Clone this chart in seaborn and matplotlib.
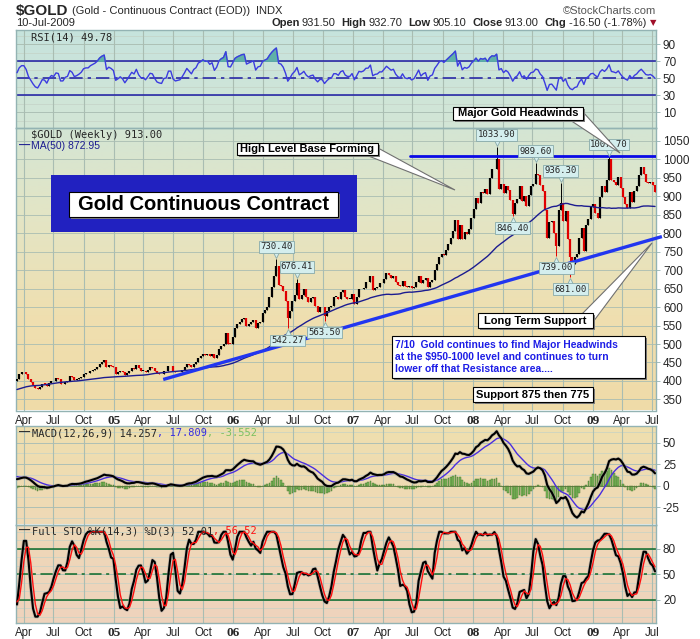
import numpy as np
import pandas as pd
import seaborn as sns
import matplotlib.pyplot as plt
from matplotlib.colors import LinearSegmentedColormap
from matplotlib.patches import Rectangle, Polygon
from matplotlib.transforms import offset_copy

# weekly closes before the visible window (Apr 2003 - Mar 5 2004), only used to warm up MA / RSI / MACD / STO
warmup_close = [325, 328, 329, 333, 344, 348, 355, 366, 361, 365, 356, 346, 345, 346, 348, 349,
                365, 352, 358, 361, 365, 375, 378, 380, 382, 390, 371, 373, 373, 389, 384, 382,
                396, 398, 398, 407, 409, 411, 414, 417, 425, 408, 414, 401, 406, 413, 400, 397, 401]

# visible weekly closes, Mar 12 2004 - Jul 10 2009
close_2004 = [405, 418, 424, 424, 418, 405, 397, 388, 380, 377, 384, 393, 392, 385, 395, 401,
              399, 407, 406, 391, 391, 398, 400, 413, 410, 402, 404, 407, 411, 419, 421, 421,
              426, 429, 432, 437, 446, 452, 456, 437, 443, 441, 438]
close_2005 = [420, 423, 427, 423, 415, 421, 428, 436, 433, 444, 434, 428, 428, 424, 430, 437,
              436, 428, 421, 419, 418, 426, 427, 440, 440, 427, 423, 424, 425, 430, 437, 446,
              442, 438, 447, 451, 463, 467, 473, 471, 472, 468, 472, 462, 469, 487, 495, 500,
              530, 501, 500, 518]
close_2006 = [543, 553, 560, 568, 571, 549, 555, 560, 566, 543, 557, 560, 584, 593, 600, 626,
              654, 683, 712, 659, 656, 643, 616, 570, 590, 617, 634, 666, 623, 634, 650, 628,
              615, 624, 628, 603, 587, 601, 599, 576, 590, 601, 604, 628, 628, 621, 640, 646,
              628, 622, 622, 635]
close_2007 = [609, 627, 650, 648, 653, 667, 668, 685, 645, 652, 654, 664, 664, 677, 692, 686,
              680, 684, 669, 660, 657, 671, 658, 655, 657, 651, 655, 667, 683, 666, 674, 678,
              654, 669, 673, 700, 716, 737, 745, 740, 754, 770, 787, 806, 835, 784, 823, 784,
              803, 799, 811, 842]
close_2008 = [865, 896, 882, 913, 910, 921, 907, 949, 975, 973, 1001, 921, 934, 908, 928, 917,
              890, 853, 881, 894, 928, 888, 900, 873, 904, 929, 934, 961, 957, 930, 914, 864,
              787, 831, 834, 801, 766, 862, 881, 834, 860, 785, 735, 718, 737, 743, 788, 815,
              752, 821, 839, 872]
close_2009 = [878, 856, 842, 899, 928, 913, 944, 1002, 943, 938, 930, 953, 923, 898, 880, 869,
              912, 884, 914, 929, 958, 979, 960, 939, 935, 940, 930, 913]

# labelled weekly highs / lows
ext_dates = ['2006-05-12', '2006-06-16', '2006-07-14', '2006-10-06', '2008-03-14', '2008-05-02',
             '2008-07-11', '2008-09-12', '2008-09-26', '2008-10-24', '2009-02-20']
ext_values = [730.40, 542.27, 676.41, 563.50, 1033.90, 846.40, 989.60, 739.00, 936.30, 681.00, 1007.70]
ext_is_high = [True, False, True, False, True, False, True, False, True, False, True]

# drawn trend lines
support_dates = ['2005-06-01', '2009-07-31']
support_prices = [404, 791]
resist_dates = ['2007-06-23', '2009-07-13']
resist_prices = [1010, 1010]

month_names = {1: None, 4: 'Apr', 7: 'Jul', 10: 'Oct'}

# ---------------------------------------------------------------- indicators
visible = close_2004 + close_2005 + close_2006 + close_2007 + close_2008 + close_2009
all_close = warmup_close + visible
dates = pd.date_range(end='2009-07-10', periods=len(all_close), freq='W-FRI')
s = pd.Series(all_close, index=dates, dtype=float)
opens = s.shift(1).fillna(s.iloc[0])
highs = np.maximum(opens, s)
lows = np.minimum(opens, s)
for d, v, up in zip(ext_dates, ext_values, ext_is_high):
    if up:
        highs[pd.Timestamp(d)] = v
    else:
        lows[pd.Timestamp(d)] = v

ma50 = s.rolling(50).mean()
delta = s.diff()
gain = delta.clip(lower=0).ewm(alpha=1 / 14, adjust=False).mean()
loss = (-delta.clip(upper=0)).ewm(alpha=1 / 14, adjust=False).mean()
rsi = 100 - 100 / (1 + gain / loss)
macd = s.ewm(span=12, adjust=False).mean() - s.ewm(span=26, adjust=False).mean()
signal = macd.ewm(span=9, adjust=False).mean()
hist = macd - signal
hh = highs.rolling(14, min_periods=1).max()
ll = lows.rolling(14, min_periods=1).min()
k_full = (100 * (s - ll) / (hh - ll)).rolling(3, min_periods=1).mean()
d_full = k_full.rolling(3, min_periods=1).mean()

n0 = len(warmup_close)
df = pd.DataFrame({'date': dates, 'open': opens.values, 'close': s.values, 'high': highs.values,
                   'low': lows.values, 'ma': ma50.values, 'rsi': rsi.values, 'macd': macd.values,
                   'signal': signal.values, 'hist': hist.values, 'k': k_full.values,
                   'd': d_full.values}).iloc[n0:].reset_index(drop=True)

# ---------------------------------------------------------------- figure
sns.set_style('white')
plt.rcParams['font.family'] = ['Liberation Sans', 'DejaVu Sans']

W, H = 700, 639
fig = plt.figure(figsize=(7, 6.39), dpi=100)
fig.patch.set_facecolor('white')


def fx(x):
    return x / W


def fy(y):
    return 1 - y / H


def rect(y0, y1, x0=16, x1=656):
    return [fx(x0), fy(y1), (x1 - x0) / W, (y1 - y0) / H]


def panel(y0, y1, colors):
    bg = fig.add_axes(rect(y0, y1), zorder=0)
    cmap = LinearSegmentedColormap.from_list('g', colors)
    bg.imshow(np.linspace(0, 1, 200).reshape(-1, 1), cmap=cmap, aspect='auto', extent=[0, 1, 0, 1])
    bg.axis('off')
    ax = fig.add_axes(rect(y0, y1), zorder=1)
    ax.set_facecolor('none')
    for sp in ax.spines.values():
        sp.set_color('#93b3b3')
        sp.set_linewidth(1)
    return ax


ax_rsi = panel(29.5, 128, ['#c6e3dd', '#d3e6d6'])
ax_p = panel(128, 410.5, ['#d4e5d4', '#e4e5c4', '#efdfb0', '#f0dba8'])
ax_m = panel(425.5, 524.5, ['#eedfae', '#efd9b6'])
ax_s = panel(524.5, 623, ['#efd8b7', '#eed3bd'])

xmin, xmax = pd.Timestamp('2004-03-09'), pd.Timestamp('2009-07-13')
tick_dates = pd.date_range('2004-04-01', '2009-07-01', freq='QS-JAN')
tick_labels = [month_names[t.month] or t.strftime('%y') for t in tick_dates]
grid_c = '#a9bdb2'

for ax, lim, ticks, minor in [(ax_rsi, (-8.8, 107.4), [10, 30, 50, 70, 90], np.arange(0, 101, 10)),
                              (ax_p, (320, 1085), list(range(350, 1051, 50)), []),
                              (ax_m, (-45, 70), [-25, 0, 25, 50], np.arange(-37.5, 70, 12.5)),
                              (ax_s, (-7.5, 108.6), [20, 50, 80], np.arange(0, 101, 10))]:
    ax.set_xlim(xmin, xmax)
    ax.set_ylim(*lim)
    for m in minor:
        ax.axhline(m, color='#c4d2c6', lw=0.5, zorder=0)
    for y in ticks:
        ax.axhline(y, color=grid_c, lw=0.6, zorder=0)
    for t in tick_dates:
        ax.axvline(t, color=grid_c, lw=0.8, zorder=0)
    ax.yaxis.tick_right()
    ax.set_yticks(ticks)
    ax.set_yticklabels([str(t) for t in ticks])
    ax.tick_params(axis='y', length=3, width=0.6, color='#93b3b3', pad=2, labelsize=8.5)
    ax.set_xticks(tick_dates)
    ax.tick_params(axis='x', length=0, pad=3)
    if ax in (ax_p, ax_s):
        ax.set_xticklabels(tick_labels)
        for lab in ax.get_xticklabels():
            if lab.get_text().isdigit():
                lab.set_fontfamily('Liberation Serif')
                lab.set_fontweight('bold')
                lab.set_fontsize(9.5)
            else:
                lab.set_fontsize(8.3)
    else:
        ax.set_xticklabels([])

# ---------------------------------------------------------------- RSI
for y, ls in [(70, '-'), (30, '-'), (50, (0, (8, 3, 2, 3)))]:
    ax_rsi.axhline(y, color='#2b2ba8', lw=1.2, ls=ls, zorder=2)
ax_rsi.fill_between(df['date'], 70, df['rsi'], where=df['rsi'] > 70, interpolate=True,
                    color='#5fb0a8', zorder=2)
sns.lineplot(x=df['date'], y=df['rsi'], ax=ax_rsi, color='#3b3be0', lw=1, legend=False, zorder=3)

# ---------------------------------------------------------------- price
up = df['close'] >= df['open']
colors = np.where(up, 'black', '#e00000')
body_lo = df[['open', 'close']].min(axis=1)
body_hi = np.maximum(df[['open', 'close']].max(axis=1), body_lo + 1.5)
ax_p.vlines(df['date'], df['low'], df['high'], colors=colors, lw=0.7, zorder=3)
ax_p.vlines(df['date'], body_lo, body_hi, colors=colors, lw=1.6, zorder=3)
sns.lineplot(x=df['date'], y=df['ma'], ax=ax_p, color='#1c1c90', lw=1, legend=False, zorder=4)
ax_p.plot(pd.to_datetime(support_dates), support_prices, color='#2236f0', lw=2.4,
          solid_capstyle='butt', zorder=4, clip_on=False)
ax_p.plot(pd.to_datetime(resist_dates), resist_prices, color='#0a0ae6', lw=2, zorder=4)

for d, v, is_high in zip(ext_dates, ext_values, ext_is_high):
    sign = 1 if is_high else -1
    tr = offset_copy(ax_p.transData, fig=fig, x=0, y=sign * 4, units='dots')
    ax_p.plot(pd.Timestamp(d), v, marker='v' if is_high else '^', ms=5, mfc='#d4eeee',
              mec='#88aaaa', mew=0.6, transform=tr, zorder=6)
    ax_p.annotate(f'{v:.2f}', (pd.Timestamp(d), v), xytext=(0, sign * 12), textcoords='offset pixels',
                  ha='center', va='center', fontsize=6.5, family='DejaVu Sans Mono', zorder=7,
                  bbox=dict(boxstyle='square,pad=0.15', fc='#d4eeee', ec='#88aaaa', lw=0.6))

# ---------------------------------------------------------------- MACD
ax_m.bar(df['date'], df['hist'], width=5, color='#7cb85a', edgecolor='#3f6f2a', lw=0.3, zorder=2)
ax_m.axhline(0, color='#5a7a3a', lw=0.6, zorder=2)
sns.lineplot(x=df['date'], y=df['signal'], ax=ax_m, color='#4a2ee0', lw=1, legend=False, zorder=3)
sns.lineplot(x=df['date'], y=df['macd'], ax=ax_m, color='#9a9a9a', lw=2.6, alpha=0.5, legend=False, zorder=3)
sns.lineplot(x=df['date'], y=df['macd'], ax=ax_m, color='black', lw=1.5, legend=False, zorder=4)

# ---------------------------------------------------------------- STO
for y, ls in [(80, '-'), (20, '-'), (50, (0, (8, 3, 2, 3)))]:
    ax_s.axhline(y, color='#0d6b2a', lw=1.1, ls=ls, zorder=2)
sns.lineplot(x=df['date'], y=df['k'], ax=ax_s, color='#9a9a9a', lw=2.6, alpha=0.5, legend=False, zorder=3)
sns.lineplot(x=df['date'], y=df['k'], ax=ax_s, color='black', lw=1.5, legend=False, zorder=4)
sns.lineplot(x=df['date'], y=df['d'], ax=ax_s, color='#ff1010', lw=1, legend=False, zorder=5)

for ax in (ax_rsi, ax_p, ax_m, ax_s):
    ax.set_xlabel('')
    ax.set_ylabel('')

# ---------------------------------------------------------------- texts
renderer = fig.canvas.get_renderer()


def text_row(pieces, x, y, ha='left'):
    arts = []
    for s_, kw, gap in pieces:
        arts.append((fig.text(0, fy(y), s_, va='center', **kw), gap))
    widths = [a.get_window_extent(renderer).width + g for a, g in arts]
    cur = x - sum(widths) if ha == 'right' else x
    for (a, g), w in zip(arts, widths):
        a.set_x(fx(cur))
        cur += w


hdr = dict(fontsize=8)
bold = dict(fontsize=8, fontweight='bold')
text_row([('$GOLD', dict(fontsize=11, fontweight='bold'), 4),
          ('(Gold - Continuous Contract (EOD))', hdr, 5), ('INDX', hdr, 0)], 16, 11)
fig.text(fx(656), fy(11), '\u00a9StockCharts.com', ha='right', va='center', fontsize=8, color='#555555')
fig.text(fx(16), fy(23), '10-Jul-2009', ha='left', va='center', fontsize=8)
text_row([('Open', bold, 2), ('931.50', hdr, 6), ('High', bold, 2), ('932.70', hdr, 6),
          ('Low', bold, 2), ('905.10', hdr, 6), ('Close', bold, 2), ('913.00', hdr, 6),
          ('Chg', bold, 3), ('-16.50 (-1.78%)', hdr, 3),
          ('\u25bc', dict(fontsize=6, color='#a0102a', family='DejaVu Sans'), 0)], 656, 23, ha='right')

mono = dict(family='DejaVu Sans Mono', fontsize=7.5)
text_row([('RSI(14) 49.78', mono, 0)], 31, 37)
text_row([('$GOLD (Weekly) 913.00', mono, 0)], 31, 135)
text_row([('\u2014', dict(fontsize=8, color='#1c1c90', fontweight='bold'), 1),
          ('MA(50) 872.95', dict(fontsize=7.5, color='#1c1c90'), 0)], 19, 146)
text_row([('\u2014', dict(fontsize=8, fontweight='bold'), 2), ('MACD(12,26,9) 14.257', mono, 0),
          (', 17.809', dict(mono, color='#3a2ee0'), 0), (', -3.552', dict(mono, color='#7cc060'), 0)],
         19, 433)
text_row([('\u2014', dict(fontsize=8, fontweight='bold'), 2), ('Full STO %K(14,3) %D(3) 52.01', mono, 0),
          (', 56.52', dict(mono, color='#ff1010'), 0)], 19, 531)


def add_rect(x0, y0, x1, y1, **kw):
    fig.add_artist(Rectangle((fx(x0), fy(y1)), (x1 - x0) / W, (y1 - y0) / H,
                             transform=fig.transFigure, **kw))


def wedge(pts):
    fig.add_artist(Polygon([(fx(x), fy(y)) for x, y in pts], closed=True, transform=fig.transFigure,
                           fc='white', ec='#707070', lw=0.8, zorder=5))


def callout(x0, y0, x1, y1, text, size=8.3, color='black', ha='center'):
    add_rect(x0 + 2, y0 + 2, x1 + 2, y1 + 2, fc='#7d7d7d', ec='none', zorder=6)
    add_rect(x0, y0, x1, y1, fc='white', ec='black', lw=0.8, zorder=7)
    tx = (x0 + x1) / 2 if ha == 'center' else x0 + 3
    fig.text(fx(tx), fy((y0 + y1) / 2), text, ha=ha, va='center', fontsize=size,
             fontweight='bold', color=color, zorder=8, linespacing=1.25)


add_rect(51, 175, 357, 232, fc='#2121c0', ec='none', zorder=5)
callout(69, 192, 338, 217, 'Gold Continuous Contract', size=14.5)

wedge([(366, 155), (378, 148), (455, 190)])
callout(237, 143, 378, 155, 'High Level Base Forming', size=8)
wedge([(570, 120), (583, 112), (620, 153)])
callout(453, 107, 583, 120, 'Major Gold Headwinds', size=8)
wedge([(582, 314), (593, 322), (652, 243)])
callout(478, 313, 593, 328, 'Long Term Support', size=8)
callout(392, 336, 645, 378, '7/10  Gold continues to find Major Headwinds\n'
        'at the $950-1000 level and continues to turn\nlower off that Resistance area....',
        size=7.4, color='#1c1ce6', ha='left')
callout(473, 387, 593, 402, 'Support 875 then 775', size=8)

fig.savefig('out.png', dpi=100)
